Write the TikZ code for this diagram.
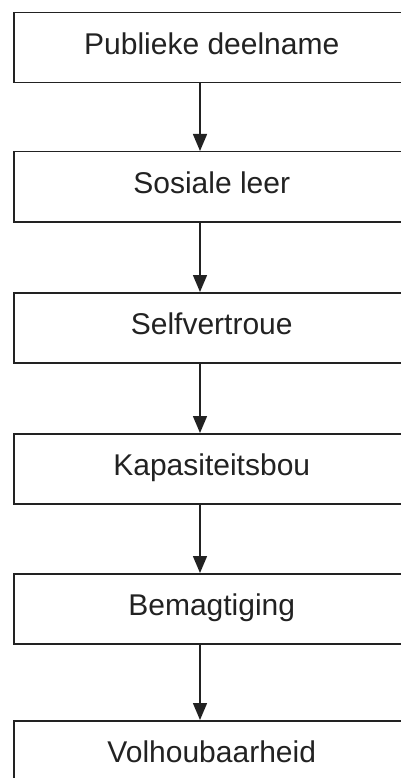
\documentclass[tikz,border=0pt]{standalone}
\usepackage{fontspec}
\setmainfont{Liberation Sans}
\usetikzlibrary{arrows.meta}
\definecolor{ink}{HTML}{222222}
\tikzset{
  stagebox/.style={draw=ink, line width=1.5pt, rectangle, anchor=north west,
    minimum width=396pt, minimum height=70pt, inner sep=0pt,
    text height=22pt, text depth=8pt, font=\fontsize{30}{36}\selectfont, text=ink},
  flowarrow/.style={draw=ink, line width=1.5pt,
    -{Triangle[width=14pt,length=17pt]}, shorten >=0pt}
}
\begin{document}
\begin{tikzpicture}[x=1pt,y=-1pt]
\useasboundingbox (0,0) rectangle (401,778);
\clip (0,0) rectangle (401,778);
\fill[white] (0,0) rectangle (401,778);
\coordinate (ax) at (200,0);
\node[stagebox] (b1) at (13,12) {Publieke deelname};
\node[stagebox] (b2) at (13,151) {Sosiale leer};
\node[stagebox] (b3) at (13,292) {Selfvertroue};
\node[stagebox] (b4) at (13,433) {Kapasiteitsbou};
\node[stagebox] (b5) at (13,573) {Bemagtiging};
\node[stagebox] (b6) at (13,720) {Volhoubaarheid};
\draw[flowarrow] (b1.south -| ax) -- (b2.north -| ax);
\draw[flowarrow] (b2.south -| ax) -- (b3.north -| ax);
\draw[flowarrow] (b3.south -| ax) -- (b4.north -| ax);
\draw[flowarrow] (b4.south -| ax) -- (b5.north -| ax);
\draw[flowarrow] (b5.south -| ax) -- (b6.north -| ax);
\end{tikzpicture}
\end{document}
